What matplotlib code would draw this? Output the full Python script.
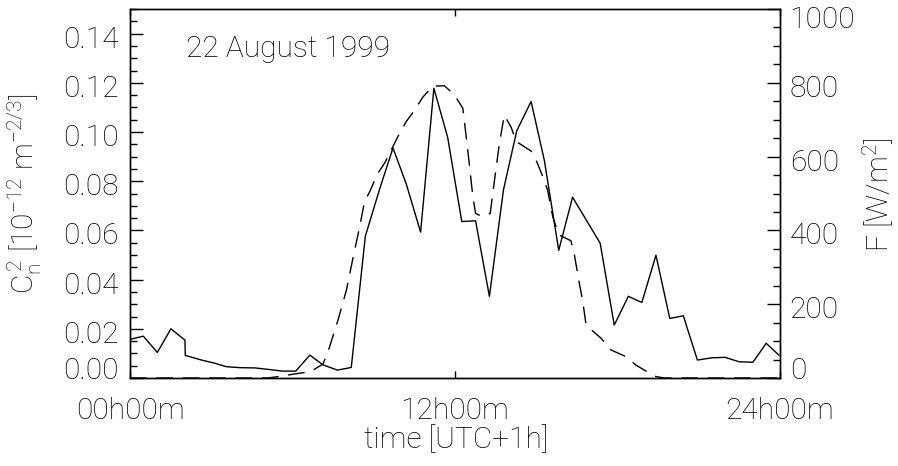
import numpy as np
import matplotlib.pyplot as plt
from matplotlib.ticker import MultipleLocator
from matplotlib.transforms import ScaledTranslation

# C_n^2 (solid), time in hours, values in 1e-12 m^-2/3
cn2_time = [0.00, 0.49, 1.01, 1.51, 2.03, 2.04, 2.64, 3.13, 3.56, 4.06, 4.61, 5.10,
            5.63, 6.12, 6.64, 7.13, 7.66, 8.17, 8.69, 9.22, 9.71, 10.20, 10.73,
            11.22, 11.73, 12.25, 12.76, 13.27, 13.79, 14.28, 14.81, 15.30, 15.83,
            16.34, 16.86, 17.36, 17.88, 18.40, 18.90, 19.42, 19.93, 20.43, 20.95,
            21.48, 21.97, 22.49, 23.00, 23.49, 23.96]
cn2_value = [0.0157, 0.0170, 0.0104, 0.0200, 0.0154, 0.0092, 0.0073, 0.0060, 0.0046,
             0.0042, 0.0041, 0.0035, 0.0028, 0.0028, 0.0093, 0.0053, 0.0032, 0.0043,
             0.0577, 0.0769, 0.0935, 0.0789, 0.0593, 0.1178, 0.0978, 0.0636, 0.0639,
             0.0332, 0.0765, 0.1005, 0.1124, 0.0884, 0.0519, 0.0735, 0.0640, 0.0548,
             0.0215, 0.0332, 0.0307, 0.0499, 0.0242, 0.0253, 0.0073, 0.0082, 0.0084,
             0.0066, 0.0064, 0.0141, 0.0093]

# radiative flux F (dashed), W/m^2
flux_time = [0.00, 5.09, 5.59, 6.08, 6.66, 7.13, 7.35, 7.68, 7.99, 8.23, 8.48, 8.66,
             8.85, 9.15, 9.40, 9.89, 10.20, 10.51, 10.81, 11.18, 11.61, 11.98, 12.29,
             12.47, 12.66, 12.76, 13.02, 13.30, 13.46, 13.64, 13.82, 14.07, 14.26,
             14.81, 15.02, 15.24, 15.42, 15.61, 15.83, 16.28, 16.41, 16.59, 16.71,
             16.84, 16.96, 17.39, 17.76, 18.31, 18.68, 19.23, 19.42, 19.72, 24.00]
flux_value = [0, 0, 5, 11, 17, 38, 80, 157, 238, 324, 410, 478,
              505, 555, 582, 654, 695, 726, 761, 791, 792, 767, 731,
              618, 491, 446, 437, 446, 537, 636, 712, 680, 641,
              615, 586, 546, 509, 437, 388, 372, 333, 257, 211,
              144, 135, 108, 76, 58, 35, 11, 4, 0, 0]

xtick_pos = [0, 12, 24]
xtick_labels = ['00h00m', '12h00m', '24h00m']

fs = 21.5
plt.rcParams['font.family'] = ['Roboto', 'DejaVu Sans']
plt.rcParams['font.weight'] = 'light'
plt.rcParams['mathtext.fontset'] = 'custom'
plt.rcParams['mathtext.rm'] = 'Roboto:light'
plt.rcParams['mathtext.it'] = 'Roboto:light'

fig = plt.figure(figsize=(8.98, 4.66), dpi=100)
ax = fig.add_axes([130 / 898, 1 - 378 / 466, 650 / 898, 369 / 466])

ax.plot(cn2_time, cn2_value, color='black', lw=1.0)
ax.set_xlim(0, 24)
ax.set_ylim(0, 0.15)
ax.set_xticks(xtick_pos)
ax.set_xticklabels(xtick_labels)
ax.set_yticks(np.arange(0, 0.141, 0.02))
ax.set_yticklabels(['%.2f' % v for v in np.arange(0, 0.141, 0.02)])
ax.yaxis.set_minor_locator(MultipleLocator(0.005))
ax.tick_params(axis='y', which='major', direction='in', length=9.5, width=1,
               left=True, right=True, labelsize=fs, pad=8)
ax.tick_params(axis='y', which='minor', direction='in', length=4.8, width=1,
               left=True, right=True)
ax.tick_params(axis='x', which='major', direction='in', length=5.3, width=1,
               top=True, bottom=True, labelsize=fs, pad=14)

ax2 = ax.twinx()
ax2.plot(flux_time, flux_value, color='black', lw=1.0, dashes=(12, 7))
ax2.set_ylim(0, 1000)
ax2.set_yticks(range(0, 1001, 200))
ax2.yaxis.set_minor_locator(MultipleLocator(50))
ax2.tick_params(axis='y', which='major', direction='in', length=9.5, width=1,
                labelsize=fs, pad=7)
ax2.tick_params(axis='y', which='minor', direction='in', length=4.8, width=1)

for a in (ax, ax2):
    for s in a.spines.values():
        s.set_linewidth(1.0)


def shift(label, dy_px):
    label.set_transform(label.get_transform() +
                        ScaledTranslation(0, dy_px / 100, fig.dpi_scale_trans))


# keep end labels inside the frame, like the original
lticks = ax.yaxis.get_major_ticks()
for i, t in enumerate(lticks):
    shift(t.label1, 10 if i == 0 else -3)
rticks = ax2.yaxis.get_major_ticks()
for i, t in enumerate(rticks):
    if i == 0:
        shift(t.label2, 10)
    elif i == len(rticks) - 1:
        shift(t.label2, -8)
    else:
        shift(t.label2, -3)

ax.text(0.086, 0.892, '22 August 1999', transform=ax.transAxes,
        ha='left', va='center', fontsize=fs)

fig.text(25 / 898, 1 - 194 / 466,
         r'C$_\mathrm{n}^{\,2}$ [10$^{-12}$ m$^{-2/3}$]',
         rotation=90, ha='center', va='center', fontsize=fs)
fig.text(878 / 898, 1 - 195 / 466, r'F [W/m$^2$]',
         rotation=90, ha='center', va='center', fontsize=fs)
fig.text(456 / 898, 1 - 440 / 466, 'time [UTC+1h]',
         ha='center', va='center', fontsize=fs)

fig.savefig('out.png', dpi=100)
